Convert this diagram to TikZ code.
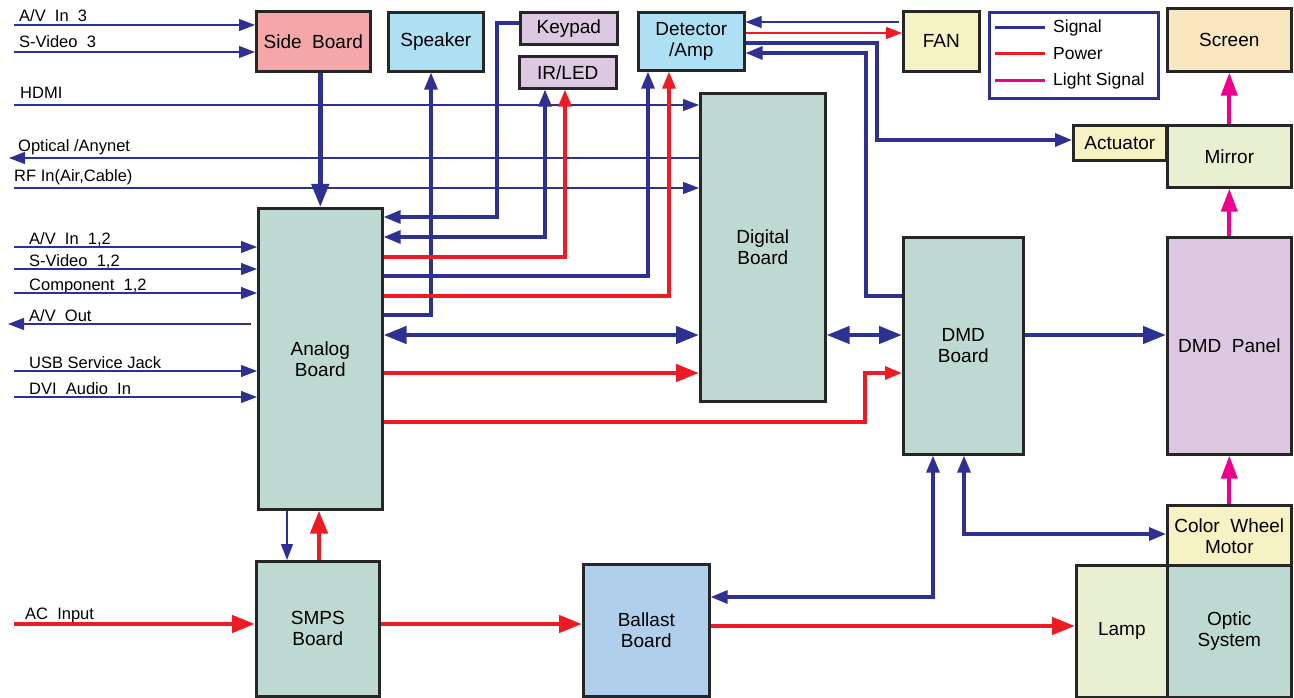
\documentclass[tikz,border=0pt]{standalone}
\usepackage{fontspec}
\setmainfont{Liberation Sans}
\usetikzlibrary{arrows.meta}

\definecolor{sigblue}{HTML}{2E3192}
\definecolor{pwrred}{HTML}{ED1C24}
\definecolor{lightmag}{HTML}{EC008C}
\definecolor{sidepink}{HTML}{F4A6A8}
\definecolor{spkblue}{HTML}{AEE0F3}
\definecolor{lavender}{HTML}{DDC8E2}
\definecolor{boardgreen}{HTML}{BDD9D1}
\definecolor{paleyellow}{HTML}{F6F2C3}
\definecolor{screenbeige}{HTML}{F8E7C0}
\definecolor{palegreen}{HTML}{E9F0D1}
\definecolor{ballastblue}{HTML}{AFCFEC}

\tikzset{
	box/.style={draw=black!85, line width=2.6pt, anchor=north west, inner sep=0pt, align=center, font=\fontsize{19}{21}\selectfont},
	lbl/.style={anchor=base west, inner sep=0pt, font=\fontsize{16.5}{18}\selectfont},
	lgd/.style={anchor=west, inner sep=0pt, font=\fontsize{17.5}{19}\selectfont},
	sigthin/.style={draw=sigblue, line width=1.2pt, >={Triangle[length=16pt,width=12pt]}},
	sigmid/.style={draw=sigblue, line width=3.2pt, >={Triangle[length=17pt,width=13pt]}},
	sigthick/.style={draw=sigblue, line width=4.5pt, >={Triangle[length=23pt,width=17pt]}},
	pwrthin/.style={draw=pwrred, line width=1.5pt, >={Triangle[length=16pt,width=12pt]}},
	pwrmid/.style={draw=pwrred, line width=3.2pt, >={Triangle[length=17pt,width=13pt]}},
	pwrthick/.style={draw=pwrred, line width=4.5pt, >={Triangle[length=23pt,width=17pt]}},
	light/.style={draw=lightmag, line width=4pt, >={Triangle[length=23pt,width=16pt]}}
}

\begin{document}
\begin{tikzpicture}[x=1pt,y=-1pt]
		\useasboundingbox (0,0) rectangle (1294,698);
		
		\node[box, fill=sidepink, minimum width=114pt, minimum height=60pt] (side) at (255,10) {Side~~Board};
		\node[box, fill=spkblue, minimum width=95pt, minimum height=59pt] (spk) at (387,11) {Speaker};
		\node[box, fill=lavender, minimum width=97pt, minimum height=32pt] (kp) at (519,11) {Keypad};
		\node[box, fill=lavender, minimum width=97pt, minimum height=32pt] (irled) at (518,55) {IR/LED};
		\node[box, fill=spkblue, minimum width=106pt, minimum height=58pt] (det) at (637,11) {Detector\\/Amp};
		\node[box, fill=paleyellow, minimum width=76pt, minimum height=60pt] (fan) at (902,10) {FAN};
		\node[box, draw=sigblue, fill=white, minimum width=169pt, minimum height=86pt] (legend) at (988,11) {};
		\node[box, fill=screenbeige, minimum width=124pt, minimum height=63pt] (screen) at (1166,7) {Screen};
		\node[box, fill=paleyellow, minimum width=93pt, minimum height=35pt] (act) at (1072,124) {Actuator};
		\node[box, fill=palegreen, minimum width=124pt, minimum height=62pt] (mirror) at (1166,124) {Mirror};
		\node[box, fill=boardgreen, minimum width=125pt, minimum height=308pt] (dig) at (699,92) {Digital\\Board};
		\node[box, fill=boardgreen, minimum width=124pt, minimum height=301pt] (ana) at (257,207) {Analog\\Board};
		\node[box, fill=boardgreen, minimum width=120pt, minimum height=217pt] (dmd) at (902,236) {DMD\\Board};
		\node[box, fill=lavender, minimum width=124pt, minimum height=217pt] (panel) at (1166,236) {DMD~~Panel};
		\node[box, fill=paleyellow, minimum width=124pt, minimum height=61pt] (cwm) at (1166,504) {Color~~Wheel\\Motor};
		\node[box, fill=palegreen, minimum width=91pt, minimum height=132pt] (lamp) at (1075,564) {Lamp};
		\node[box, fill=boardgreen, minimum width=124pt, minimum height=132pt] (optic) at (1166,564) {Optic\\System};
		\node[box, fill=boardgreen, minimum width=123pt, minimum height=135pt] (smps) at (255,560) {SMPS\\Board};
		\node[box, fill=ballastblue, minimum width=126pt, minimum height=132pt] (ballast) at (582,563) {Ballast\\Board};
		
		\node[lgd] (lsig) at (1053,28) {Signal};
		\node[lgd] (lpwr) at (1053,54) {Power};
		\node[lgd] (llight) at (1053,81) {Light Signal};
		\draw[sigblue, line width=3pt] ([xshift=-8pt]lsig.west) -- ++(-50,0);
		\draw[pwrred, line width=3pt] ([xshift=-8pt]lpwr.west) -- ++(-50,0);
		\draw[lightmag, line width=3pt] ([xshift=-8pt]llight.west) -- ++(-50,0);
		
		\coordinate (inav3) at (14,25);
		\coordinate (insv3) at (14,52);
		\coordinate (inhdmi) at (14,105);
		\coordinate (inopt) at (9,158);
		\coordinate (inrf) at (14,188);
		\coordinate (inav12) at (14,247);
		\coordinate (insv12) at (14,269);
		\coordinate (incomp) at (14,293);
		\coordinate (avout) at (8,324);
		\coordinate (inusb) at (14,371);
		\coordinate (indvi) at (14,397);
		\coordinate (inac) at (14,624);
		
		\node[lbl] (tav3) at (19,22) {A/V~~In~~3};
		\node[lbl] (tsv3) at (19,48) {S-Video~~3};
		\node[lbl] (thdmi) at (20,99) {HDMI};
		\node[lbl] (topt) at (18,152) {Optical /Anynet};
		\node[lbl] (trf) at (14,182) {RF In(Air,Cable)};
		\node[lbl] (tav12) at (29,244) {A/V~~In~~1,2};
		\node[lbl] (tsv12) at (29,266) {S-Video~~1,2};
		\node[lbl] (tcomp) at (29,290) {Component~~1,2};
		\node[lbl] (tavout) at (29,321) {A/V~~Out};
		\node[lbl] (tusb) at (29,368) {USB Service Jack};
		\node[lbl] (tdvi) at (29,394) {DVI~~Audio~~In};
		\node[lbl] (tac) at (25,619) {AC~~Input};
		
		\draw[sigthin,->] (inav3) -- (side.west |- inav3);
		\draw[sigthin,->] (insv3) -- (side.west |- insv3);
		\draw[sigthin,->] (inhdmi) -- (dig.west |- inhdmi);
		\draw[sigthin,<-] (inopt) -- (dig.west |- inopt);
		\draw[sigthin,->] (inrf) -- (dig.west |- inrf);
		\draw[sigthin,->] (inav12) -- (ana.west |- inav12);
		\draw[sigthin,->] (insv12) -- (ana.west |- insv12);
		\draw[sigthin,->] (incomp) -- (ana.west |- incomp);
		\draw[sigthin,<-] (avout) -- ([xshift=-6pt]ana.west |- avout);
		\draw[sigthin,->] (inusb) -- (ana.west |- inusb);
		\draw[sigthin,->] (indvi) -- (ana.west |- indvi);
		\draw[pwrthick,->] (inac) -- (smps.west |- inac);
		
		\draw[sigthick,->] (side.south -| ana.north) -- (ana.north);
		\draw[sigmid,->] (ana.east |- 0,315) -| (spk.south -| 431,0);
		\draw[sigmid,->] (kp.west |- 0,23) -| (497,217) -- (ana.east |- 0,217);
		\draw[sigmid,<->] (ana.east |- 0,237) -| (irled.south -| 545,0);
		\draw[pwrmid,->] (ana.east |- 0,257) -| (irled.south -| 565,0);
		\draw[sigmid,->] (ana.east |- 0,276) -| (det.south -| 648,0);
		\draw[pwrmid,->] (ana.east |- 0,296) -| (det.south -| 669,0);
		\draw[sigthick,<->] (ana.east |- 0,335) -- (dig.west |- 0,335);
		\draw[pwrthick,->] (ana.east |- 0,373) -- (dig.west |- 0,373);
		\draw[pwrmid,->] (ana.east |- 0,422) -| (865,373) -- (dmd.west |- 0,373);
		\draw[sigthick,<->] (dig.east |- 0,335) -- (dmd.west |- 0,335);
		\draw[sigthick,->] (dmd.east |- 0,335) -- (panel.west |- 0,335);
		
		\draw[sigthin,->] ([xshift=-3pt]fan.west |- 0,22) -- (det.east |- 0,22);
		\draw[pwrthin,->] (det.east |- 0,33) -- (fan.west |- 0,33);
		\draw[sigmid,->] (det.east |- 0,43) -| (877,140) -- (act.west |- 0,140);
		\draw[sigmid,->] (dmd.west |- 0,296) -| (866,53) -- (det.east |- 0,53);
		
		\draw[light,->] (mirror.north) -- (screen.south);
		\draw[light,->] (panel.north) -- (mirror.south);
		\draw[light,->] (cwm.north) -- (panel.south);
		
		\draw[sigmid,<->] (dmd.south -| 933,0) |- (ballast.east |- 0,597);
		\draw[sigmid,<->] (dmd.south -| 964,0) |- (cwm.west |- 0,534);
		\draw[sigthin,->] (ana.south -| 287,0) -- (smps.north -| 287,0);
		\draw[pwrthick,->] (smps.north -| 319,0) -- (ana.south -| 319,0);
		\draw[pwrthick,->] (smps.east |- 0,624) -- (ballast.west |- 0,624);
		\draw[pwrthick,->] (ballast.east |- 0,626) -- (lamp.west |- 0,626);
	\end{tikzpicture}
\end{document}
